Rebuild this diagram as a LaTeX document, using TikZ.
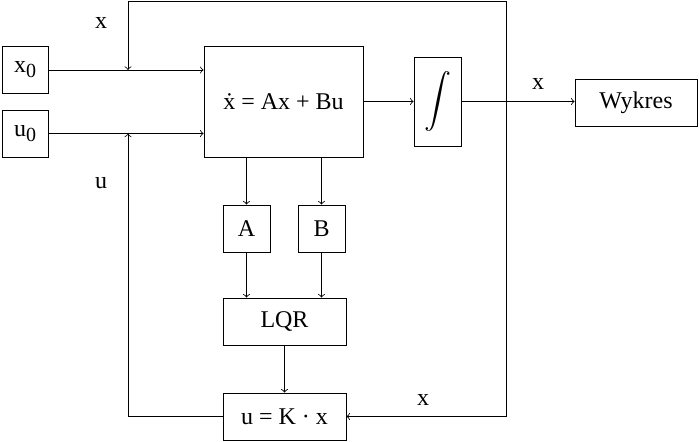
\documentclass[tikz,border=0pt]{standalone}
\usepackage{fontspec}
\setmainfont{Liberation Serif}
\usepackage{tikz}
\usetikzlibrary{arrows,positioning,calc}
\newcommand{\sub}[1]{\raisebox{-0.45ex}{\fontsize{10}{12}\selectfont#1}}

\begin{document}
\begin{tikzpicture}[
						x=0.5pt,y=-0.5pt,
						font=\fontsize{12}{14}\selectfont,
						block/.style={draw,inner sep=0pt},
						small/.style={block,minimum width=23pt,minimum height=23.5pt},
						wide/.style={block,minimum width=61.5pt,minimum height=23.5pt},
						sig/.style={->,thin}
					]
					\useasboundingbox (0,0) rectangle (699,441);
					\node[small] (x0) at (25,70) {x\sub{0}};
					\node[small] (u0) at (25,133.5) {u\sub{0}};
					\node[block,minimum width=79.5pt,minimum height=55.5pt] (model) at (283.5,101.5) {\.{x} = Ax + Bu};
					\node[block,minimum width=23.5pt,minimum height=44.5pt] (int) at (437.5,101.5) {\scalebox{1.35}{$\displaystyle\int$}};
					\node[wide,minimum width=61pt] (plot) at (636,102.5) {Wykres};
					\node[small,minimum width=23.5pt] (A) at (246.5,228.5) {A};
					\node[small,minimum width=23.5pt] (B) at (321.5,228.5) {B};
					\node[wide] (lqr) at (284.5,321.5) {LQR};
					\node[wide] (gain) at (284.5,416.5) {u = K \textperiodcentered\ x};

					\coordinate (tap) at (506,101.5);
					\coordinate (topR) at (506,1);
					\coordinate (topL) at (128,1);
					\coordinate (inX) at (128,70);
					\coordinate (inU) at (128,133.5);

					\node (lx) at (101,23) {x};
					\node (lu) at (101,183) {u};
					\node (lout) at (538,84) {x};
					\node (lfb) at (423,400) {x};

					%\draw[sig] (x0) -- (model);
					\draw[sig] (x0.east) -- (x0.east -| model.west);
					\draw[sig] (u0.east) -- (u0.east -| model.west);
					\draw[sig] (model) -- (int);
					\draw[sig] (int.east) -- (int.east -| plot.west);
					\draw[sig] (tap) -- (topR) -- (topL) -- (inX);
					\draw[sig] (tap) |- (gain.east);
					\draw[sig] (gain.west) -| (inU);
					\draw[sig] (model.south -| A) -- (A);
					\draw[sig] (model.south -| B) -- (B);
					\draw[sig] (A) -- (A |- lqr.north);
					\draw[sig] (B) -- (B |- lqr.north);
					\draw[sig] (lqr) -- (gain);
				\end{tikzpicture}
\end{document}
